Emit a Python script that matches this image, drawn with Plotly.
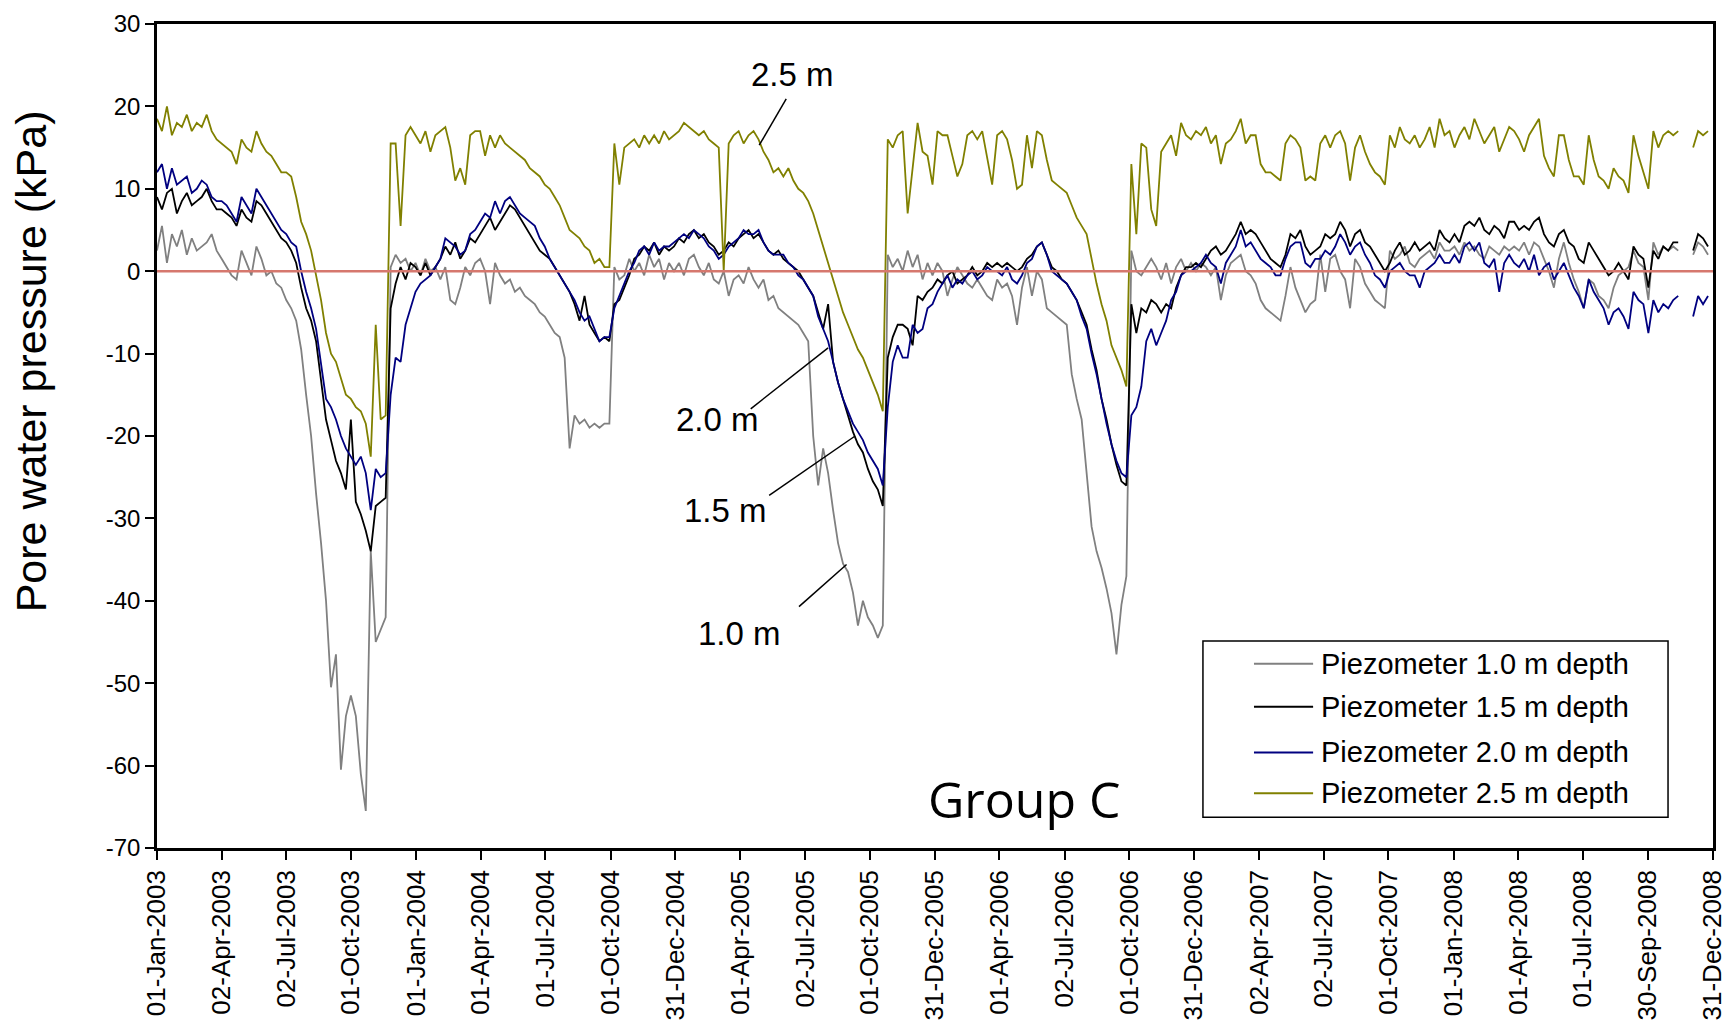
import plotly.graph_objects as go
import pandas as pd

# ---- data: weekly readings from 01-Jan-2003 (kPa) ----
start_date = "2003-01-01"

p10 = [  # Piezometer 1.0 m depth
    2.5, 5.5, 1.0, 4.5, 3.0, 5.0, 2.0, 4.0, 2.5, 3.0, 3.5, 4.5, 2.5,
    1.5, 0.5, -0.5, -1.0, 2.5, 1.0, -0.5, 3.0, 1.5, -0.5, 0.0, -1.5, -2.0,
    -3.5, -4.5, -6.0, -9.5, -15.0, -20.0, -27.0, -33.0, -40.0, -50.5, -46.5, -60.5, -54.0,
    -51.5, -54.0, -61.0, -65.5, -34.0, -45.0, -43.5, -42.0, 0.5, 2.0, 1.0, 1.5, 0.0,
    1.0, -0.5, 1.5, 0.0, 0.5, -1.0, 0.5, -3.5, -4.0, -2.0, 0.5, -0.5, 1.0,
    1.5, 0.0, -4.0, 1.0, -0.5, -1.5, -1.0, -2.5, -2.0, -3.0, -3.5, -4.0, -5.0,
    -5.5, -6.5, -7.5, -8.0, -10.5, -21.5, -17.5, -18.5, -18.0, -19.0, -18.5, -19.0, -18.5,
    -18.5, 0.5, -1.0, -0.5, 1.5, 0.0, 1.0, -0.5, 2.0, 0.5, 1.5, -1.0, 1.0,
    0.0, 1.0, -0.5, 1.5, 2.0, 0.5, -0.5, 1.0, -1.0, -1.5, 0.0, -3.0, -1.0,
    -0.5, -1.5, 0.5, -1.0, -2.0, -1.0, -3.5, -3.0, -4.5, -5.0, -5.5, -6.0, -6.5,
    -7.5, -8.5, -20.0, -26.0, -21.5, -24.5, -29.0, -33.0, -35.5, -36.5, -39.0, -43.0, -40.0,
    -42.0, -43.0, -44.5, -43.0, 2.0, 0.5, 1.5, 0.0, 2.5, 0.5, 2.0, -1.0, 1.0,
    -0.5, 1.0, 0.0, -3.0, -1.0, 0.5, -0.5, -1.5, -2.0, -1.0, -2.0, -3.0, -3.5,
    -1.0, -2.0, -1.5, -3.0, -6.5, -2.0, 0.5, -3.0, 0.0, -1.0, -4.5, -5.0, -5.5,
    -6.0, -6.5, -12.5, -15.5, -18.0, -25.0, -31.0, -34.0, -36.0, -38.5, -41.5, -46.5, -40.5,
    -37.0, 2.5, 0.0, -0.5, 0.5, 1.5, 0.5, -1.0, 1.0, -1.5, 0.5, 1.5, 0.0,
    1.0, 0.0, 1.0, 0.5, -0.5, 0.5, -3.5, -0.5, 1.0, 1.5, 2.0, 0.0, -0.5,
    -1.5, -3.5, -4.5, -5.0, -5.5, -6.0, -3.0, 0.5, -2.0, -3.5, -5.0, -4.0, -3.5,
    2.0, -2.5, 1.5, 2.0, 0.0, -1.0, -4.5, 1.5, 0.5, -1.5, -2.5, -3.5, -4.0,
    -4.5, 2.5, 1.5, 2.0, 3.0, 1.0, 0.5, 1.5, 2.0, 2.5, 1.5, 3.5, 2.5,
    2.5, 3.0, 2.0, 3.5, 2.5, 3.0, 2.0, 1.5, 3.0, 2.5, 2.0, 3.0, 2.5,
    3.0, 2.5, 3.5, 2.0, 3.5, 3.0, 1.5, 0.0, -2.0, 1.5, 3.5, 1.0, -1.0,
    -2.5, -4.5, -1.0, -1.5, -3.0, -3.5, -4.5, -2.0, -0.5, 0.0, 0.5, 2.5, 1.0,
    0.5, -3.5, 3.5, 2.0, 3.0, 2.5, 3.0, 2.5, None, None, 2.0, 3.5, 3.0, 2.0,
]

p15 = [  # Piezometer 1.5 m depth
    9.0, 7.5, 9.5, 10.0, 7.0, 8.5, 9.5, 8.0, 8.5, 9.0, 10.0, 8.5, 7.5,
    7.5, 7.0, 6.5, 5.5, 7.5, 6.5, 6.0, 8.5, 8.0, 7.0, 6.0, 5.0, 4.0,
    3.5, 2.5, 1.0, -2.0, -4.5, -6.0, -8.5, -13.5, -18.0, -20.5, -23.0, -24.5, -26.5,
    -18.0, -28.0, -29.5, -31.5, -34.0, -28.5, -28.0, -27.5, -4.5, -1.5, 0.5, -1.0, 1.0,
    0.5, -0.5, 1.0, -0.5, 0.5, 1.5, 3.0, 2.0, 3.5, 1.5, 2.5, 4.0, 3.5,
    4.5, 5.5, 6.5, 5.0, 6.0, 7.0, 8.0, 7.5, 6.5, 5.5, 4.5, 3.5, 2.5,
    2.0, 1.5, 0.5, -0.5, -1.5, -2.5, -4.0, -6.0, -3.0, -6.5, -7.5, -8.5, -8.0,
    -8.5, -4.0, -3.5, -2.0, -0.5, 1.5, 2.0, 3.0, 2.5, 3.5, 2.0, 3.0, 2.5,
    3.0, 4.0, 3.5, 4.5, 5.0, 4.0, 4.5, 3.5, 3.0, 2.0, 2.5, 3.5, 3.0,
    4.0, 4.5, 5.0, 4.0, 4.5, 3.5, 2.5, 2.0, 2.5, 1.5, 1.0, 0.5, 0.0,
    -1.0, -2.0, -3.0, -5.0, -7.0, -4.0, -11.0, -13.5, -15.5, -17.5, -19.5, -21.0, -22.0,
    -24.0, -25.5, -26.5, -28.5, -10.5, -8.0, -6.5, -6.5, -7.0, -9.0, -3.0, -3.5, -2.5,
    -2.0, -1.0, -1.5, -0.5, 0.0, -1.5, -1.0, -0.5, 0.5, -0.5, 0.0, 1.0, 0.5,
    1.0, 0.5, 1.0, 0.5, 0.0, 0.5, 1.5, 2.0, 3.0, 3.5, 2.0, 0.5, 0.0,
    -1.0, -1.5, -2.5, -3.5, -5.0, -6.5, -9.5, -12.0, -15.5, -18.0, -21.0, -23.5, -25.5,
    -26.0, -4.0, -7.5, -4.5, -5.0, -3.5, -4.0, -5.0, -4.0, -4.5, -2.0, -0.5, 0.5,
    0.5, 1.0, 0.5, 1.5, 2.5, 3.0, 2.0, 2.5, 3.5, 4.5, 6.0, 4.5, 5.0,
    4.5, 3.5, 2.5, 1.5, 1.0, 0.5, 2.0, 4.5, 4.0, 5.0, 3.0, 2.0, 2.5,
    3.0, 4.5, 4.0, 4.5, 6.0, 5.0, 3.0, 4.5, 5.0, 3.5, 3.0, 2.0, 1.0,
    0.0, 1.0, 2.5, 3.5, 2.0, 2.5, 3.5, 2.5, 3.0, 3.5, 2.5, 5.0, 4.0,
    3.5, 4.5, 3.5, 5.5, 6.0, 5.5, 6.5, 5.0, 4.5, 5.5, 5.0, 4.0, 6.0,
    6.0, 5.0, 5.5, 5.0, 6.0, 6.5, 4.5, 3.5, 3.0, 4.5, 5.0, 3.5, 3.0,
    1.5, 1.0, 3.5, 2.5, 1.5, 0.5, -0.5, 0.0, 1.0, 0.0, -1.0, 3.0, 2.0,
    1.5, -2.0, 2.5, 1.5, 3.0, 2.5, 3.5, 3.5, None, None, 2.5, 4.5, 4.0, 3.0,
]

p20 = [  # Piezometer 2.0 m depth
    12.0, 13.0, 10.0, 12.5, 10.5, 11.0, 11.5, 9.5, 10.0, 11.0, 10.5, 9.0, 8.5,
    8.5, 8.0, 7.0, 6.0, 9.0, 8.0, 7.0, 10.0, 9.0, 8.0, 7.0, 6.0, 5.0,
    4.5, 3.5, 3.0, 0.0, -2.5, -4.5, -7.0, -11.5, -15.5, -16.5, -18.0, -20.0, -21.5,
    -22.5, -23.5, -22.5, -24.5, -29.0, -24.0, -25.0, -24.5, -15.0, -10.5, -11.0, -6.5, -4.5,
    -2.5, -1.5, -1.0, -0.5, 0.5, 1.5, 4.0, 3.5, 3.0, 2.0, 2.5, 4.5, 5.0,
    6.0, 7.0, 6.5, 8.5, 7.0, 8.5, 9.0, 8.0, 7.0, 6.5, 6.0, 5.5, 4.0,
    3.0, 1.5, 0.5, -0.5, -1.5, -2.5, -3.5, -5.0, -6.0, -5.5, -7.0, -8.5, -8.0,
    -8.0, -4.5, -3.0, -1.5, 0.0, 1.0, 2.5, 3.0, 2.0, 3.5, 2.5, 3.0, 3.0,
    3.5, 4.0, 4.5, 4.0, 5.0, 4.5, 4.0, 3.0, 2.5, 1.5, 2.0, 3.0, 3.5,
    4.0, 5.0, 4.5, 4.5, 5.0, 3.5, 2.5, 2.0, 2.0, 2.0, 1.0, 0.5, -0.5,
    -1.0, -2.0, -3.0, -5.5, -7.0, -8.5, -11.0, -13.5, -15.5, -17.0, -18.5, -19.5, -20.5,
    -22.0, -23.0, -24.0, -26.0, -16.5, -11.0, -9.0, -10.5, -10.5, -6.5, -7.5, -7.0, -4.5,
    -4.0, -2.5, -1.5, -0.5, -2.0, -1.0, -1.5, -0.5, 0.0, -1.0, -0.5, 0.5, 0.0,
    0.0, -0.5, 0.5, -1.0, -1.5, -0.5, 1.0, 1.5, 3.0, 3.5, 2.0, 0.0, -0.5,
    -1.0, -1.5, -2.5, -3.5, -5.5, -7.0, -10.0, -12.5, -15.5, -18.5, -21.0, -23.0, -24.5,
    -25.0, -17.5, -16.5, -14.0, -8.5, -7.0, -9.0, -7.5, -6.0, -3.5, -2.5, -0.5, 0.0,
    0.0, 0.5, 1.0, 2.0, 1.0, 0.5, -1.5, 1.0, 2.0, 3.0, 5.0, 3.0, 3.5,
    2.5, 1.5, 1.0, 0.5, -0.5, -0.5, 1.5, 3.0, 3.5, 3.5, 1.0, 0.5, 1.5,
    1.5, 2.5, 2.0, 3.0, 4.5, 3.5, 2.0, 3.0, 3.5, 2.0, 1.0, -0.5, -1.0,
    -2.0, 0.0, 0.5, 1.0, 0.0, -0.5, -0.5, -2.0, 0.0, 0.5, 1.0, 2.0, 1.0,
    1.0, 2.0, 1.0, 3.0, 3.5, 2.5, 3.5, 1.0, 0.5, 1.5, -2.5, 1.0, 2.0,
    1.0, 0.5, 1.5, 0.0, 2.0, -0.5, 0.5, 1.0, -1.0, 0.0, 1.0, -0.5, -2.0,
    -3.0, -4.5, -1.0, -2.5, -3.5, -4.5, -6.5, -5.0, -4.5, -5.5, -7.0, -2.5, -3.5,
    -4.0, -7.5, -3.5, -5.0, -4.0, -4.5, -3.5, -3.0, None, None, -5.5, -3.0, -4.0, -3.0,
]

p25 = [  # Piezometer 2.5 m depth
    18.5, 17.0, 20.0, 16.5, 18.0, 17.5, 19.0, 17.0, 18.0, 17.5, 19.0, 17.0, 16.0,
    15.5, 15.0, 14.5, 13.0, 16.0, 15.0, 14.5, 17.0, 15.5, 14.5, 14.0, 13.0, 12.0,
    12.0, 11.5, 9.0, 6.0, 4.5, 2.5, -0.5, -3.5, -7.5, -10.0, -11.0, -13.0, -15.0,
    -15.5, -16.5, -17.0, -18.5, -22.5, -6.5, -18.0, -17.5, 15.5, 15.5, 5.5, 16.5, 17.5,
    16.5, 15.5, 17.0, 14.5, 16.5, 17.0, 17.5, 15.0, 11.0, 12.5, 10.5, 16.5, 17.0,
    17.0, 14.0, 16.5, 15.0, 16.5, 15.5, 15.0, 14.5, 14.0, 13.5, 12.5, 12.0, 11.5,
    10.5, 10.0, 9.0, 8.0, 6.5, 5.0, 4.5, 4.0, 3.0, 2.5, 1.0, 1.5, 0.5,
    0.5, 15.5, 10.5, 15.0, 15.5, 16.0, 15.0, 16.5, 15.5, 16.5, 15.5, 17.0, 16.0,
    16.5, 17.0, 18.0, 17.5, 17.0, 16.5, 17.0, 16.0, 15.5, 15.0, 0.0, 15.5, 16.5,
    17.0, 15.5, 16.5, 17.0, 16.0, 14.5, 13.5, 12.0, 12.5, 11.5, 12.5, 11.0, 10.0,
    9.5, 8.5, 7.0, 5.0, 3.0, 1.0, -1.0, -3.0, -5.0, -6.5, -8.0, -9.5, -10.5,
    -12.0, -13.5, -15.0, -17.0, 16.0, 15.0, 16.5, 17.0, 7.0, 12.5, 18.0, 14.5, 14.0,
    10.5, 17.0, 16.5, 16.5, 14.0, 11.5, 13.0, 16.5, 17.0, 16.0, 17.0, 13.5, 10.5,
    16.5, 17.0, 16.0, 13.5, 10.0, 10.5, 16.5, 12.5, 17.0, 16.5, 13.5, 11.0, 10.5,
    10.0, 9.5, 8.0, 6.5, 5.5, 4.5, 1.5, -1.5, -4.0, -6.0, -9.0, -10.5, -12.0,
    -14.0, 13.0, 4.5, 15.5, 15.0, 7.5, 5.5, 14.5, 15.5, 16.5, 14.0, 18.0, 16.5,
    16.0, 17.0, 16.5, 17.5, 15.5, 16.5, 13.0, 15.5, 16.0, 17.0, 18.5, 15.5, 16.5,
    16.5, 13.0, 12.0, 12.0, 11.5, 11.0, 15.5, 16.5, 16.0, 15.0, 11.0, 11.5, 11.0,
    15.5, 16.5, 15.0, 16.5, 17.0, 15.5, 11.0, 15.0, 16.5, 14.5, 13.0, 12.0, 11.5,
    10.5, 16.5, 15.0, 17.5, 16.0, 15.5, 16.5, 15.0, 16.0, 17.5, 15.0, 18.5, 16.5,
    17.0, 15.0, 16.5, 17.5, 16.0, 18.5, 17.0, 15.5, 16.5, 17.5, 14.5, 16.0, 17.5,
    17.0, 16.0, 14.5, 16.5, 17.5, 18.5, 14.0, 12.5, 11.5, 16.5, 16.5, 13.5, 11.5,
    11.5, 10.5, 16.5, 13.5, 11.5, 11.0, 10.0, 12.5, 11.5, 11.0, 9.5, 16.5, 14.0,
    12.0, 10.0, 17.0, 15.0, 16.5, 17.0, 16.5, 17.0, None, None, 15.0, 17.0, 16.5, 17.0,
]

series_names = ["Piezometer 1.0 m depth", "Piezometer 1.5 m depth",
                "Piezometer 2.0 m depth", "Piezometer 2.5 m depth"]
series_colors = ["#808080", "#000000", "#000080", "#808000"]

tick_dates = ["2003-01-01", "2003-04-02", "2003-07-02", "2003-10-01", "2004-01-01",
              "2004-04-01", "2004-07-01", "2004-10-01", "2004-12-31", "2005-04-01",
              "2005-07-02", "2005-10-01", "2005-12-31", "2006-04-01", "2006-07-02",
              "2006-10-01", "2006-12-31", "2007-04-02", "2007-07-02", "2007-10-01",
              "2008-01-01", "2008-04-01", "2008-07-01", "2008-09-30", "2008-12-31"]
tick_labels = [pd.Timestamp(d).strftime("%d-%b-%Y") for d in tick_dates]
y_ticks = [-70, -60, -50, -40, -30, -20, -10, 0, 10, 20, 30]
y_tick_labels = [str(v) for v in y_ticks]

assert len(p10) == len(p15) == len(p20) == len(p25)
dates = pd.date_range(start_date, periods=len(p10), freq="7D")

ARIAL = "Liberation Sans, Arial, sans-serif"


def day(n):
    return (pd.Timestamp(start_date) + pd.Timedelta(days=n)).strftime("%Y-%m-%d")


fig = go.Figure()
for name, vals, col in zip(series_names, [p10, p15, p20, p25], series_colors):
    fig.add_trace(go.Scatter(x=dates, y=vals, mode="lines", name=name,
                             showlegend=False,
                             line=dict(color=col, width=1.8), connectgaps=False))

# zero reference line
fig.add_shape(type="line", xref="x", yref="y", x0=start_date, x1="2008-12-31",
              y0=0, y1=0, line=dict(color="#d6786e", width=2.5), layer="above")

# depth labels with leader lines
labels = [
    ("2.5 m", 895, 23.9, (886, 20.9), (848, 15.3)),
    ("2.0 m", 789, -18.0, (836, -16.7), (945, -9.3)),
    ("1.5 m", 800, -29.1, (862, -27.2), (983, -20.0)),
    ("1.0 m", 820, -44.0, (904, -40.7), (971, -35.6)),
]
for txt, tx, ty, p0, p1 in labels:
    fig.add_annotation(x=day(tx), y=ty, xref="x", yref="y", text=txt, showarrow=False,
                       font=dict(family=ARIAL, size=33, color="black"))
    fig.add_shape(type="line", xref="x", yref="y", x0=day(p0[0]), y0=p0[1],
                  x1=day(p1[0]), y1=p1[1], line=dict(color="black", width=1.5))

fig.add_annotation(x=day(1221), y=-64.0, xref="x", yref="y", text="Group C",
                   showarrow=False, font=dict(family="Open Sans, DejaVu Sans, sans-serif",
                                              size=50, color="black"))

fig.add_annotation(x=-0.081, y=0.5906, xref="paper", yref="paper",
                   text="Pore water pressure (kPa)", textangle=-90, showarrow=False,
                   xanchor="center", yanchor="middle",
                   font=dict(family=ARIAL, size=43, color="black"))

# legend box (drawn in paper coordinates)
fig.add_shape(type="rect", xref="paper", yref="paper", x0=0.6722, x1=0.9711,
              y0=0.0374, y1=0.2512, line=dict(color="black", width=1.5),
              fillcolor="white", layer="above")
legend_rows = [0.2236, 0.1715, 0.1159, 0.0664]
for name, col, yy in zip(series_names, series_colors, legend_rows):
    fig.add_shape(type="line", xref="paper", yref="paper", x0=0.7050, x1=0.7430,
                  y0=yy, y1=yy, line=dict(color=col, width=2), layer="above")
    fig.add_annotation(x=0.7470, y=yy, xref="paper", yref="paper", text=name,
                       showarrow=False, xanchor="left", yanchor="middle",
                       font=dict(family=ARIAL, size=29, color="black"))

# the page adds an 8 px body margin, so the figure is offset to fit inside it
fig.update_layout(
    width=1723, height=1018,
    margin=dict(l=149, r=18, t=16, b=178),
    paper_bgcolor="white", plot_bgcolor="white",
    showlegend=False,
    xaxis=dict(type="date", range=[start_date, "2008-12-31"],
               tickmode="array", tickvals=tick_dates, ticktext=tick_labels,
               tickangle=-90, ticks="outside", ticklen=9, tickwidth=2,
               tickcolor="black", showline=True, linewidth=2.5, linecolor="black",
               mirror=True, showgrid=False, zeroline=False, automargin=False,
               ticklabeloverflow="allow",
               tickfont=dict(family=ARIAL, size=26, color="black")),
    yaxis=dict(range=[-70, 30], tickmode="array", tickvals=y_ticks,
               ticktext=y_tick_labels, ticks="outside", ticklen=9, tickwidth=2,
               tickcolor="black", showline=True, linewidth=2.5, linecolor="black",
               mirror=True, showgrid=False, zeroline=False, automargin=False,
               ticklabeloverflow="allow",
               tickfont=dict(family=ARIAL, size=24, color="black")),
)

fig.write_html("out.html")
